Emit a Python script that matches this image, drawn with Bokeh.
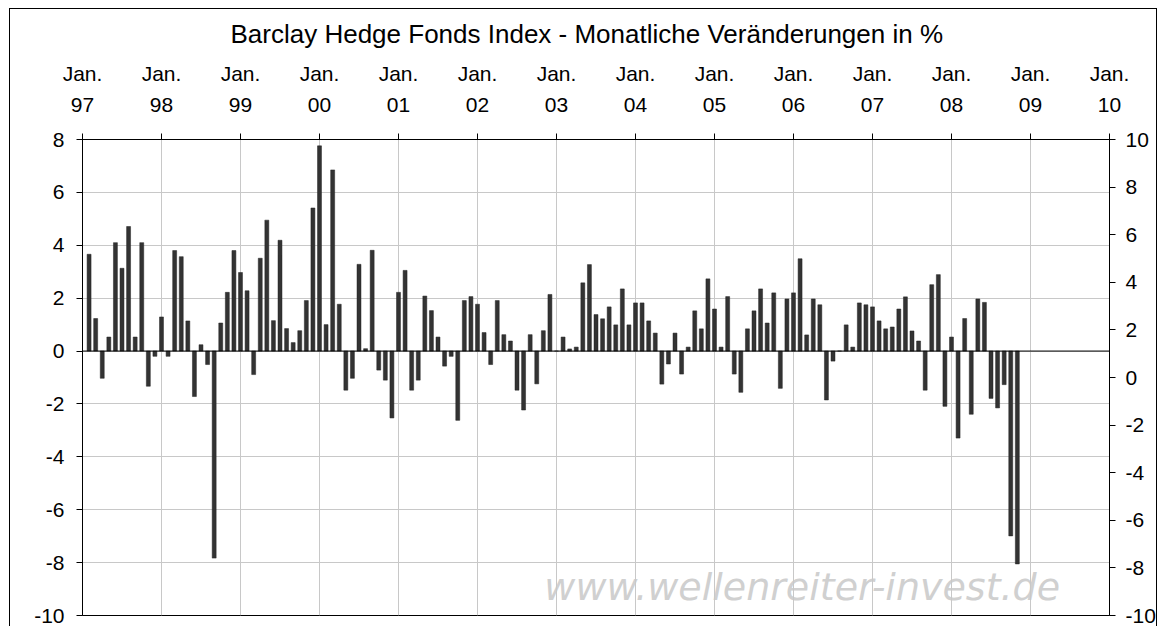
from bokeh.plotting import figure
from bokeh.models import Range1d, LinearAxis, FixedTicker, Span, Label
from bokeh.embed import file_html
from bokeh.resources import INLINE

title_text = "Barclay Hedge Fonds Index - Monatliche Veränderungen in %"
watermark_text = "www.wellenreiter-invest.de"

# top axis labels (January of each year)
year_labels = ["97", "98", "99", "00", "01", "02", "03", "04", "05", "06", "07", "08", "09", "10"]
month_label = "Jan."

# monthly changes in % (Jan 1997 - Oct 2008)
r1997 = [3.66, 1.23, -1.03, 0.53, 4.10, 3.13, 4.71, 0.53, 4.10, -1.33, -0.20, 1.29]
r1998 = [-0.20, 3.80, 3.57, 1.14, -1.72, 0.24, -0.51, -7.83, 1.06, 2.22, 3.80, 2.97]
r1999 = [2.28, -0.89, 3.51, 4.95, 1.15, 4.19, 0.85, 0.32, 0.77, 1.91, 5.41, 7.76]
r2000 = [1.00, 6.85, 1.77, -1.48, -1.03, 3.28, 0.09, 3.81, -0.72, -1.10, -2.53, 2.22]
r2001 = [3.05, -1.48, -1.10, 2.08, 1.53, 0.53, -0.57, -0.20, -2.62, 1.91, 2.06, 1.77]
r2002 = [0.70, -0.51, 1.91, 0.62, 0.38, -1.48, -2.23, 0.62, -1.24, 0.77, 2.14, 0.00]
r2003 = [0.53, 0.08, 0.15, 2.58, 3.27, 1.38, 1.22, 1.67, 0.99, 2.35, 0.99, 1.82]
r2004 = [1.82, 1.14, 0.68, -1.25, -0.49, 0.68, -0.87, 0.15, 1.52, 0.84, 2.73, 1.59]
r2005 = [0.15, 2.06, -0.87, -1.56, 0.84, 1.52, 2.35, 1.06, 2.20, -1.41, 1.97, 2.20]
r2006 = [3.49, 0.61, 1.97, 1.75, -1.85, -0.38, 0.00, 0.99, 0.15, 1.82, 1.75, 1.67]
r2007 = [1.14, 0.84, 0.91, 1.59, 2.05, 0.76, 0.38, -1.48, 2.51, 2.89, -2.09, 0.53]
r2008 = [-3.29, 1.23, -2.39, 1.97, 1.84, -1.79, -2.15, -1.27, -6.99, -8.05]

returns = r1997 + r1998 + r1999 + r2000 + r2001 + r2002 + r2003 + r2004 + r2005 + r2006 + r2007 + r2008
# x in months since Jan 1997; each bar drawn at the end of its month
xs = [i + 1 for i in range(len(returns))]

left_ticks = list(range(-10, 9, 2))
right_ticks = list(range(-10, 11, 2))
year_ticks = [12 * i for i in range(len(year_labels))]

FONT = "Liberation Sans"

p = figure(width=1148, height=618, output_backend="svg", toolbar_location=None,
           x_range=Range1d(0, 156), y_range=Range1d(-10, 8),
           x_axis_location="above",
           min_border_left=72, min_border_right=47, min_border_top=130, min_border_bottom=12)
p.margin = (8, 0, 0, 9)
p.styles = {"border-top": "1px solid black", "border-left": "1px solid black",
            "border-right": "1px solid black"}
p.background_fill_color = "white"
p.border_fill_color = "white"
p.outline_line_color = "black"
p.outline_line_width = 1

p.title.text = title_text
p.title.align = "left"
p.title.offset = 148
p.title.vertical_align = "top"
p.title.text_font = FONT
p.title.text_font_size = "26px"
p.title.text_font_style = "normal"
p.title.text_color = "black"
p.title.standoff = 15

# top axis
xa = p.xaxis[0]
xa.ticker = FixedTicker(ticks=year_ticks)
xa.major_label_overrides = {t: month_label + "\n" + lab for t, lab in zip(year_ticks, year_labels)}
xa.major_label_text_font = FONT
xa.major_label_text_font_size = "21px"
xa.major_label_text_line_height = 1.33
xa.major_label_text_color = "black"
xa.major_label_standoff = 18
xa.major_tick_out = 6
xa.major_tick_in = 0
xa.minor_tick_out = 0
xa.minor_tick_in = 0
xa.axis_line_color = "black"
xa.major_tick_line_color = "black"

# left axis
ya = p.yaxis[0]
ya.ticker = FixedTicker(ticks=left_ticks)
ya.major_label_overrides = {t: str(t) for t in left_ticks}
ya.major_label_text_font = FONT
ya.major_label_text_font_size = "21px"
ya.major_label_text_color = "black"
ya.major_label_standoff = 12
ya.major_tick_out = 6
ya.major_tick_in = 0
ya.minor_tick_out = 0
ya.minor_tick_in = 0
ya.axis_line_color = "black"
ya.major_tick_line_color = "black"

# right axis (own scale)
p.extra_y_ranges = {"right": Range1d(-10, 10)}
ra = LinearAxis(y_range_name="right", ticker=FixedTicker(ticks=right_ticks))
ra.major_label_overrides = {t: str(t) for t in right_ticks}
ra.major_label_text_font = FONT
ra.major_label_text_font_size = "21px"
ra.major_label_text_color = "black"
ra.major_label_standoff = 10
ra.major_tick_out = 6
ra.major_tick_in = 0
ra.minor_tick_out = 0
ra.minor_tick_in = 0
ra.axis_line_color = "black"
ra.major_tick_line_color = "black"
p.add_layout(ra, "right")

# grids
p.xgrid.ticker = FixedTicker(ticks=year_ticks)
p.ygrid.ticker = FixedTicker(ticks=left_ticks)
p.xgrid.grid_line_color = "#c8c8c8"
p.ygrid.grid_line_color = "#c8c8c8"

# watermark behind everything
wm = Label(x=70.15, y=-8.91, text=watermark_text, text_font="DejaVu Sans",
           text_font_style="italic", text_font_size="38px", text_color="#d0d0d0",
           text_baseline="alphabetic", level="image")
p.add_layout(wm)

p.vbar(x=xs, top=returns, bottom=0, width=0.6, fill_color="#333333",
       line_color="#222222", line_width=0.5)

p.add_layout(Span(location=0, dimension="width", line_color="black", line_width=1))

open("out.html", "w").write(file_html(p, INLINE))
